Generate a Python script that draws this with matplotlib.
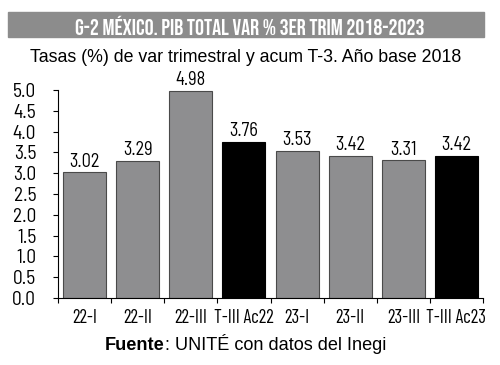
import matplotlib.pyplot as plt
import numpy as np

categories = ['22-I', '22-II', '22-III', 'T-III Ac22', '23-I', '23-II', '23-III', 'T-III Ac23']
values = [3.02, 3.29, 4.98, 3.76, 3.53, 3.42, 3.31, 3.42]
is_accum = [False, False, False, True, False, False, False, True]
yticks = np.arange(0, 5.01, 0.5)

title_font = ['Bebas Neue', 'DejaVu Sans']
num_font = ['Barlow Semi Condensed', 'DejaVu Sans']
cat_font = ['Barlow Condensed', 'DejaVu Sans']
plain = ['Liberation Sans', 'DejaVu Sans']

fig = plt.figure(figsize=(5, 3.65), dpi=100)
ax = fig.add_axes([0.116, 0.1836, 0.85, 0.5698])

# banner de titulo
fig.patches.append(plt.Rectangle((0.016, 0.899), 0.952, 0.068, transform=fig.transFigure,
                                 color='#8c8c8c', zorder=0))
fig.text(0.5, 0.931, 'G-2 MÉXICO. PIB TOTAL VAR % 3ER TRIM 2018-2023', family=title_font,
         fontsize=16.2, color='white', ha='center', va='center')
fig.text(0.492, 0.842, 'Tasas (%) de var trimestral y acum T-3. Año base 2018', family=plain,
         fontsize=12.8, ha='center', va='center')

x = np.arange(len(categories))
colors = ['black' if a else '#8e8e90' for a in is_accum]
edges = ['black' if a else '#4a4a4a' for a in is_accum]
ax.bar(x, values, width=0.81, color=colors, edgecolor=edges, linewidth=0.8)
for xi, v in zip(x, values):
    ax.text(xi, v + 0.04, f'{v:.2f}', ha='center', va='bottom', family=num_font, fontsize=13.2)

ax.set_xlim(-0.5, len(categories) - 0.5)
ax.set_ylim(0, 5.0)
ax.set_yticks(yticks)
ax.set_yticklabels([f'{t:.1f}' for t in yticks], family=num_font, fontsize=14)
ax.set_xticks(x)
ax.set_xticklabels(categories, family=cat_font, fontsize=13.5)
ax.set_xticks(np.arange(-0.5, len(categories)), minor=True)
ax.tick_params(axis='x', which='major', length=0, pad=8)
ax.tick_params(axis='x', which='minor', length=3.6, width=0.8)
ax.tick_params(axis='y', length=3.6, width=0.8, pad=12)
for s in ['top', 'right']:
    ax.spines[s].set_visible(False)
ax.spines['left'].set_linewidth(0.8)
ax.spines['bottom'].set_linewidth(0.8)

t1 = fig.text(0.21, 0.04, 'Fuente', family=plain, weight='bold', fontsize=13.1, va='baseline')
ax.annotate(': UNITÉ con datos del Inegi', xy=(1, 0), xycoords=t1, va='bottom',
            family=plain, fontsize=13.1)

fig.savefig('out.png', dpi=100, facecolor='white')
